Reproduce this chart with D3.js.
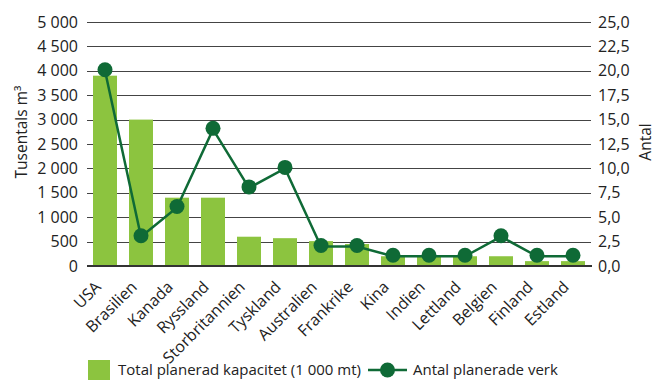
<!DOCTYPE html>
<html>
<head>
<meta charset="utf-8">
<script src="https://cdn.jsdelivr.net/npm/d3@7"></script>
<style>
  body { margin: 0; background: #fff; }
  svg text { font-family: "Open Sans", sans-serif; fill: #222; }
</style>
</head>
<body>
<div id="chart"></div>
<script>
// data
var countries = ["USA", "Brasilien", "Kanada", "Ryssland", "Storbritannien", "Tyskland", "Australien",
  "Frankrike", "Kina", "Indien", "Lettland", "Belgien", "Finland", "Estland"];
var capacity = [3900, 3000, 1400, 1400, 600, 570, 510, 450, 200, 200, 200, 200, 100, 100];
var plants = [20, 3, 6, 14, 8, 10, 2, 2, 1, 1, 1, 3, 1, 1];
var leftTicks = [0, 500, 1000, 1500, 2000, 2500, 3000, 3500, 4000, 4500, 5000];
var rightTicks = [0, 2.5, 5, 7.5, 10, 12.5, 15, 17.5, 20, 22.5, 25];

var W = 657, H = 380;
var margin = { top: 22, right: 66, bottom: 114, left: 87 };
var width = W - margin.left - margin.right;
var height = H - margin.top - margin.bottom;

var barGreen = "#8cc43f", lineGreen = "#0f6a36";

var svg = d3.select("#chart").append("svg")
  .attr("width", W)
  .attr("height", H);

var g = svg.append("g")
  .attr("transform", "translate(" + margin.left + "," + margin.top + ")");

var x = d3.scaleBand().domain(countries).range([0, width]).paddingInner(1 / 3).paddingOuter(1 / 6);
var yL = d3.scaleLinear().domain([0, 5000]).range([height, 0]);
var yR = d3.scaleLinear().domain([0, 25]).range([height, 0]);

var fmtL = function (v) { return d3.format(",")(v).replace(",", " "); };
var fmtR = function (v) { return d3.format(".1f")(v).replace(".", ","); };

// gridlines
g.selectAll(".grid").data(leftTicks.slice(1)).enter().append("line")
  .attr("x1", 0).attr("x2", width)
  .attr("y1", function (d) { return Math.round(yL(d)) + 0.5; })
  .attr("y2", function (d) { return Math.round(yL(d)) + 0.5; })
  .attr("stroke", "#444").attr("stroke-width", 1.2);

// left axis
var axL = g.append("g").call(d3.axisLeft(yL).tickValues(leftTicks).tickFormat(fmtL).tickSize(0).tickPadding(9));
axL.select(".domain").remove();
axL.selectAll("text").style("font-size", "16px").style("fill", "#222");

// right axis
var axR = g.append("g").attr("transform", "translate(" + width + ",0)")
  .call(d3.axisRight(yR).tickValues(rightTicks).tickFormat(fmtR).tickSize(0).tickPadding(7));
axR.select(".domain").remove();
axR.selectAll("text").style("font-size", "16px").style("fill", "#222");

// bars
g.selectAll(".bar").data(countries).enter().append("rect")
  .attr("class", "bar")
  .attr("x", function (d) { return x(d); })
  .attr("width", x.bandwidth())
  .attr("y", function (d, i) { return yL(capacity[i]); })
  .attr("height", function (d, i) { return height - yL(capacity[i]); })
  .attr("fill", barGreen);

// zero line
g.append("line")
  .attr("x1", 0).attr("x2", width + 1)
  .attr("y1", height).attr("y2", height)
  .attr("stroke", "#333").attr("stroke-width", 2);

// x labels
g.selectAll(".xlab").data(countries).enter().append("text")
  .attr("transform", function (d) {
    return "translate(" + (x(d) + x.bandwidth() / 2 - 3) + "," + (height + 22) + ") rotate(-45)";
  })
  .attr("text-anchor", "end")
  .style("font-size", "16px")
  .text(function (d) { return d; });

// line
var line = d3.line()
  .x(function (d, i) { return x(countries[i]) + x.bandwidth() / 2; })
  .y(function (d) { return yR(d); });

g.append("path").datum(plants)
  .attr("d", line)
  .attr("fill", "none")
  .attr("stroke", lineGreen)
  .attr("stroke-width", 2.5);

g.selectAll(".dot").data(plants).enter().append("circle")
  .attr("cx", function (d, i) { return x(countries[i]) + x.bandwidth() / 2; })
  .attr("cy", function (d) { return yR(d) - 1; })
  .attr("r", 7.5)
  .attr("fill", lineGreen);

// axis titles
svg.append("text")
  .attr("transform", "translate(27,132) rotate(-90)")
  .attr("text-anchor", "middle")
  .style("font-size", "15.5px")
  .text("Tusentals m³");

svg.append("text")
  .attr("transform", "translate(651,142) rotate(-90)")
  .attr("text-anchor", "middle")
  .style("font-size", "15.5px")
  .text("Antal");

// legend
var leg = svg.append("g").attr("transform", "translate(88,360)");
leg.append("rect").attr("width", 22).attr("height", 20).attr("fill", barGreen);
leg.append("text").attr("x", 30).attr("y", 10).attr("dy", "0.35em")
  .style("font-size", "15px").text("Total planerad kapacitet (1 000 mt)");
leg.append("line").attr("x1", 280).attr("x2", 319).attr("y1", 10).attr("y2", 10)
  .attr("stroke", lineGreen).attr("stroke-width", 2.5);
leg.append("circle").attr("cx", 299.5).attr("cy", 10).attr("r", 7.5).attr("fill", lineGreen);
leg.append("text").attr("x", 325).attr("y", 10).attr("dy", "0.35em")
  .style("font-size", "15px").text("Antal planerade verk");
</script>
</body>
</html>
